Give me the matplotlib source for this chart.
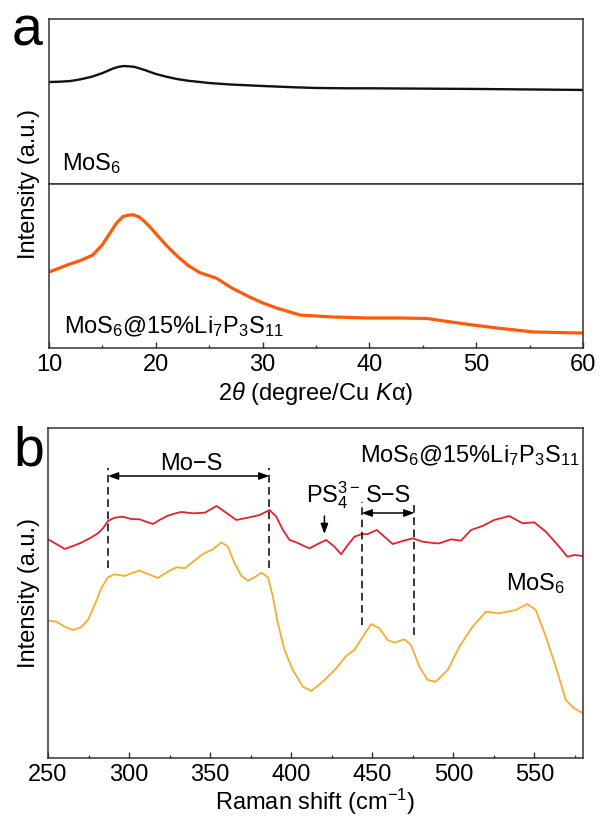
#!/usr/bin/env python3
"""XRD (a) and Raman (b) of MoS6 vs MoS6@15%Li7P3S11."""
import matplotlib
matplotlib.use("Agg")
import matplotlib.pyplot as plt
from matplotlib.ticker import MultipleLocator

plt.rcParams["font.family"] = ["Liberation Sans", "DejaVu Sans"]
plt.rcParams["mathtext.fontset"] = "custom"
plt.rcParams["mathtext.rm"] = "Liberation Sans"
plt.rcParams["mathtext.it"] = "Liberation Sans:italic"
plt.rcParams["mathtext.bf"] = "Liberation Sans:bold"
plt.rcParams["axes.unicode_minus"] = True

FS = 17
SPINE = "#333333"

# ---- XRD data (2theta, relative intensity) ----
xrd_mos6_2t = [10, 11, 12, 13, 14, 15, 16, 16.5, 17, 17.5, 18, 19, 20, 21, 22, 23, 25,
               27, 30, 33, 35, 38, 40, 45, 50, 55, 60]
xrd_mos6_i = [0.618, 0.620, 0.624, 0.635, 0.650, 0.672, 0.700, 0.710, 0.715, 0.713, 0.710,
              0.690, 0.667, 0.650, 0.636, 0.626, 0.612, 0.603, 0.594, 0.586, 0.582, 0.580,
              0.580, 0.578, 0.576, 0.573, 0.570]

xrd_comp_2t = [10, 11.7, 13, 14.1, 15, 15.7, 16.3, 16.9, 17.4, 17.9, 18.4, 18.8, 19.5, 20.1,
               21, 22, 23, 24.1, 25.7, 27, 28.8, 30, 31.3, 33.5, 36.6, 39.8, 42.9, 45.4,
               47.5, 49.7, 52.2, 55.3, 60]
xrd_comp_i = [0.463, 0.506, 0.535, 0.567, 0.630, 0.700, 0.760, 0.800, 0.810, 0.812, 0.800,
              0.780, 0.735, 0.690, 0.625, 0.560, 0.505, 0.460, 0.425, 0.370, 0.310, 0.275,
              0.244, 0.201, 0.189, 0.183, 0.183, 0.180, 0.160, 0.140, 0.120, 0.098, 0.091]

# ---- Raman data (shift cm-1, offset intensity) ----
raman_comp_x = [250, 255.1, 260.3, 265.4, 270.5, 275.7, 280.8, 283.9, 287, 291, 296.2, 301.3,
                306.5, 310.5, 314.7, 318.8, 323.9, 330, 332.3, 339.5, 346.7, 353.9, 359,
                366.2, 374.4, 380.5, 386.7, 390.8, 394.9, 399, 403.1, 409.3, 411.3, 416.4,
                421.6, 426.7, 430.8, 434.9, 439, 443.2, 447.3, 452.8, 457.5, 462.6, 468.8,
                474.9, 481.1, 489.3, 491.4, 498.6, 504.7, 510.9, 518, 525.2, 534.5, 542.7,
                549.9, 557.1, 565.3, 570.4, 574.5, 580]
raman_comp_y = [218.7, 214, 209, 212, 215.3, 219.7, 224.7, 229.7, 237, 240.3, 241.3, 239,
                238.7, 236.3, 234, 238, 242.3, 245.3, 246, 244.7, 245.3, 252, 246.3, 238,
                240.7, 243, 248, 241.3, 228, 218, 215.7, 211, 209.7, 214, 218, 211.3, 203.7,
                213, 221.3, 223.7, 224, 228, 221.3, 214, 217, 219.7, 216.3, 214.7, 214.7,
                218.7, 217.3, 228, 232, 238, 242, 234.7, 235.7, 226.3, 211.3, 201.3, 203,
                202]

raman_mos6_x = [250, 255.1, 260.3, 265.4, 270.5, 274.6, 278.8, 282.8, 287, 291, 297.2,
                301.3, 306.5, 311.6, 317.7, 323.9, 329.2, 334.4, 339.5, 345.6, 351.8, 357,
                361, 365.1, 369.3, 373.3, 377.5, 381.6, 385.7, 388.7, 391.8, 395.9, 401,
                407.2, 412.4, 419.5, 427.8, 433.9, 439, 444.2, 449.3, 454.4, 459.5, 463.7,
                469.8, 473.9, 479.1, 484.2, 489.3, 496.5, 503.7, 511.9, 520.1, 528.3, 538.6,
                545.7, 550.9, 557.1, 563.2, 569.4, 574.5, 580]
raman_mos6_y = [137.3, 136.3, 131.3, 128, 130.7, 138, 153, 169.7, 180.7, 183.7, 182, 184.7,
                187.3, 184, 180, 186.3, 190.7, 189.7, 196.3, 204, 208.7, 215.7, 211.3, 194.7,
                182, 177.3, 180.7, 185.3, 180.7, 161.3, 134.7, 108, 88, 71.3, 67, 76.3, 89.7,
                102, 108, 121.3, 134, 129.7, 118, 115.3, 118.7, 113, 91.3, 78, 76.3, 88,
                111.3, 131.3, 146.3, 144.7, 148, 154, 148, 121.3, 91.3, 58, 49.7, 44.7]

mos_s_lines = [287, 386.5]
s_s_lines = [443.5, 476]
ps4_pos = 420.5

XRD_BLACK = "#111111"
XRD_ORANGE = "#FF5A0A"
RAMAN_RED = "#E3222B"
RAMAN_GOLD = "#F4AE2C"


def style_axis(ax, show_x=True):
    for sp in ax.spines.values():
        sp.set_color(SPINE)
        sp.set_linewidth(1.1)
    ax.set_yticks([])
    if show_x:
        ax.tick_params(axis="x", which="both", direction="in", top=False,
                       labelsize=FS, pad=4, color=SPINE)
        ax.tick_params(axis="x", which="major", length=4.5, width=1)
        ax.tick_params(axis="x", which="minor", length=2.5, width=1)
    else:
        ax.tick_params(axis="x", which="both", bottom=False, labelbottom=False)


fig = plt.figure(figsize=(6, 8.16), dpi=100)
W, H = 600.0, 816.0


def box(l, t, r, b):
    return [l / W, 1 - b / H, (r - l) / W, (b - t) / H]


# ---- panel a ----
ax_top = fig.add_axes(box(49, 19, 583, 184))
ax_bot = fig.add_axes(box(49, 184, 583, 348))
ax_top.plot(xrd_mos6_2t, xrd_mos6_i, color=XRD_BLACK, lw=1.7)
ax_bot.plot(xrd_comp_2t, xrd_comp_i, color=XRD_ORANGE, lw=2.3)
for ax in (ax_top, ax_bot):
    ax.set_xlim(10, 60)
    ax.set_ylim(0, 1)
    ax.xaxis.set_major_locator(MultipleLocator(10))
    ax.xaxis.set_minor_locator(MultipleLocator(5))
style_axis(ax_top, show_x=False)
style_axis(ax_bot)
ax_top.text(0.024, 0.085, r"MoS$_6$", transform=ax_top.transAxes, fontsize=FS, va="baseline")
ax_bot.text(0.028, 0.091, r"MoS$_6$@15%Li$_7$P$_3$S$_{11}$", transform=ax_bot.transAxes,
            fontsize=FS, va="baseline")
ax_bot.set_xlabel(r"2$\theta$ (degree/Cu $K$α)", fontsize=FS, labelpad=3)

# ---- panel b ----
axb = fig.add_axes(box(48, 428, 583, 758))
axb.plot(raman_comp_x, raman_comp_y, color=RAMAN_RED, lw=1.3)
axb.plot(raman_mos6_x, raman_mos6_y, color=RAMAN_GOLD, lw=1.3)
axb.set_xlim(250, 580)
axb.set_ylim(0, 330)
axb.xaxis.set_major_locator(MultipleLocator(50))
axb.xaxis.set_minor_locator(MultipleLocator(25))
style_axis(axb)
axb.set_xlabel(r"Raman shift (cm$^{-1}$)", fontsize=FS, labelpad=1)

dash = (0, (5, 3))
axb.vlines(mos_s_lines, 190, 290, colors="black", linestyles=dash, lw=1.1)
axb.vlines(s_s_lines[0], 133, 256, colors="black", linestyles=dash, lw=1.1)
axb.vlines(s_s_lines[1], 123, 256, colors="black", linestyles=dash, lw=1.1)
arrow = dict(arrowstyle="<|-|>,head_length=0.6,head_width=0.22", color="black", lw=1.1,
             shrinkA=0, shrinkB=0)
axb.annotate("", xy=(mos_s_lines[0], 282), xytext=(mos_s_lines[1], 282), arrowprops=arrow)
axb.annotate("", xy=(s_s_lines[0], 245), xytext=(s_s_lines[1], 245), arrowprops=arrow)
axb.annotate("", xy=(ps4_pos, 224), xytext=(ps4_pos, 242),
             arrowprops=dict(arrowstyle="-|>,head_length=0.6,head_width=0.22", color="black",
                             lw=1.1, shrinkA=0, shrinkB=0))
axb.text(338.5, 288, "Mo\u2212S", fontsize=FS, ha="center", va="baseline")
axb.text(460, 256, "S\u2212S", fontsize=FS, ha="center", va="baseline")
axb.text(409, 256, r"PS$_4^{3-}$", fontsize=FS, ha="left", va="baseline")
axb.text(578, 296, r"MoS$_6$@15%Li$_7$P$_3$S$_{11}$", fontsize=FS, ha="right", va="baseline")
axb.text(532.5, 168, r"MoS$_6$", fontsize=FS, ha="left", va="baseline")

# y labels and panel letters
fig.text(29 / W, 1 - 184 / H, "Intensity (a.u.)", rotation=90, fontsize=FS,
         ha="center", va="center")
fig.text(29 / W, 1 - 593 / H, "Intensity (a.u.)", rotation=90, fontsize=FS,
         ha="center", va="center")
fig.text(12 / W, 1 - 46 / H, "a", fontsize=40, ha="left", va="baseline")
fig.text(13 / W, 1 - 465 / H, "b", fontsize=40, ha="left", va="baseline")

fig.savefig("out.png", dpi=100)
